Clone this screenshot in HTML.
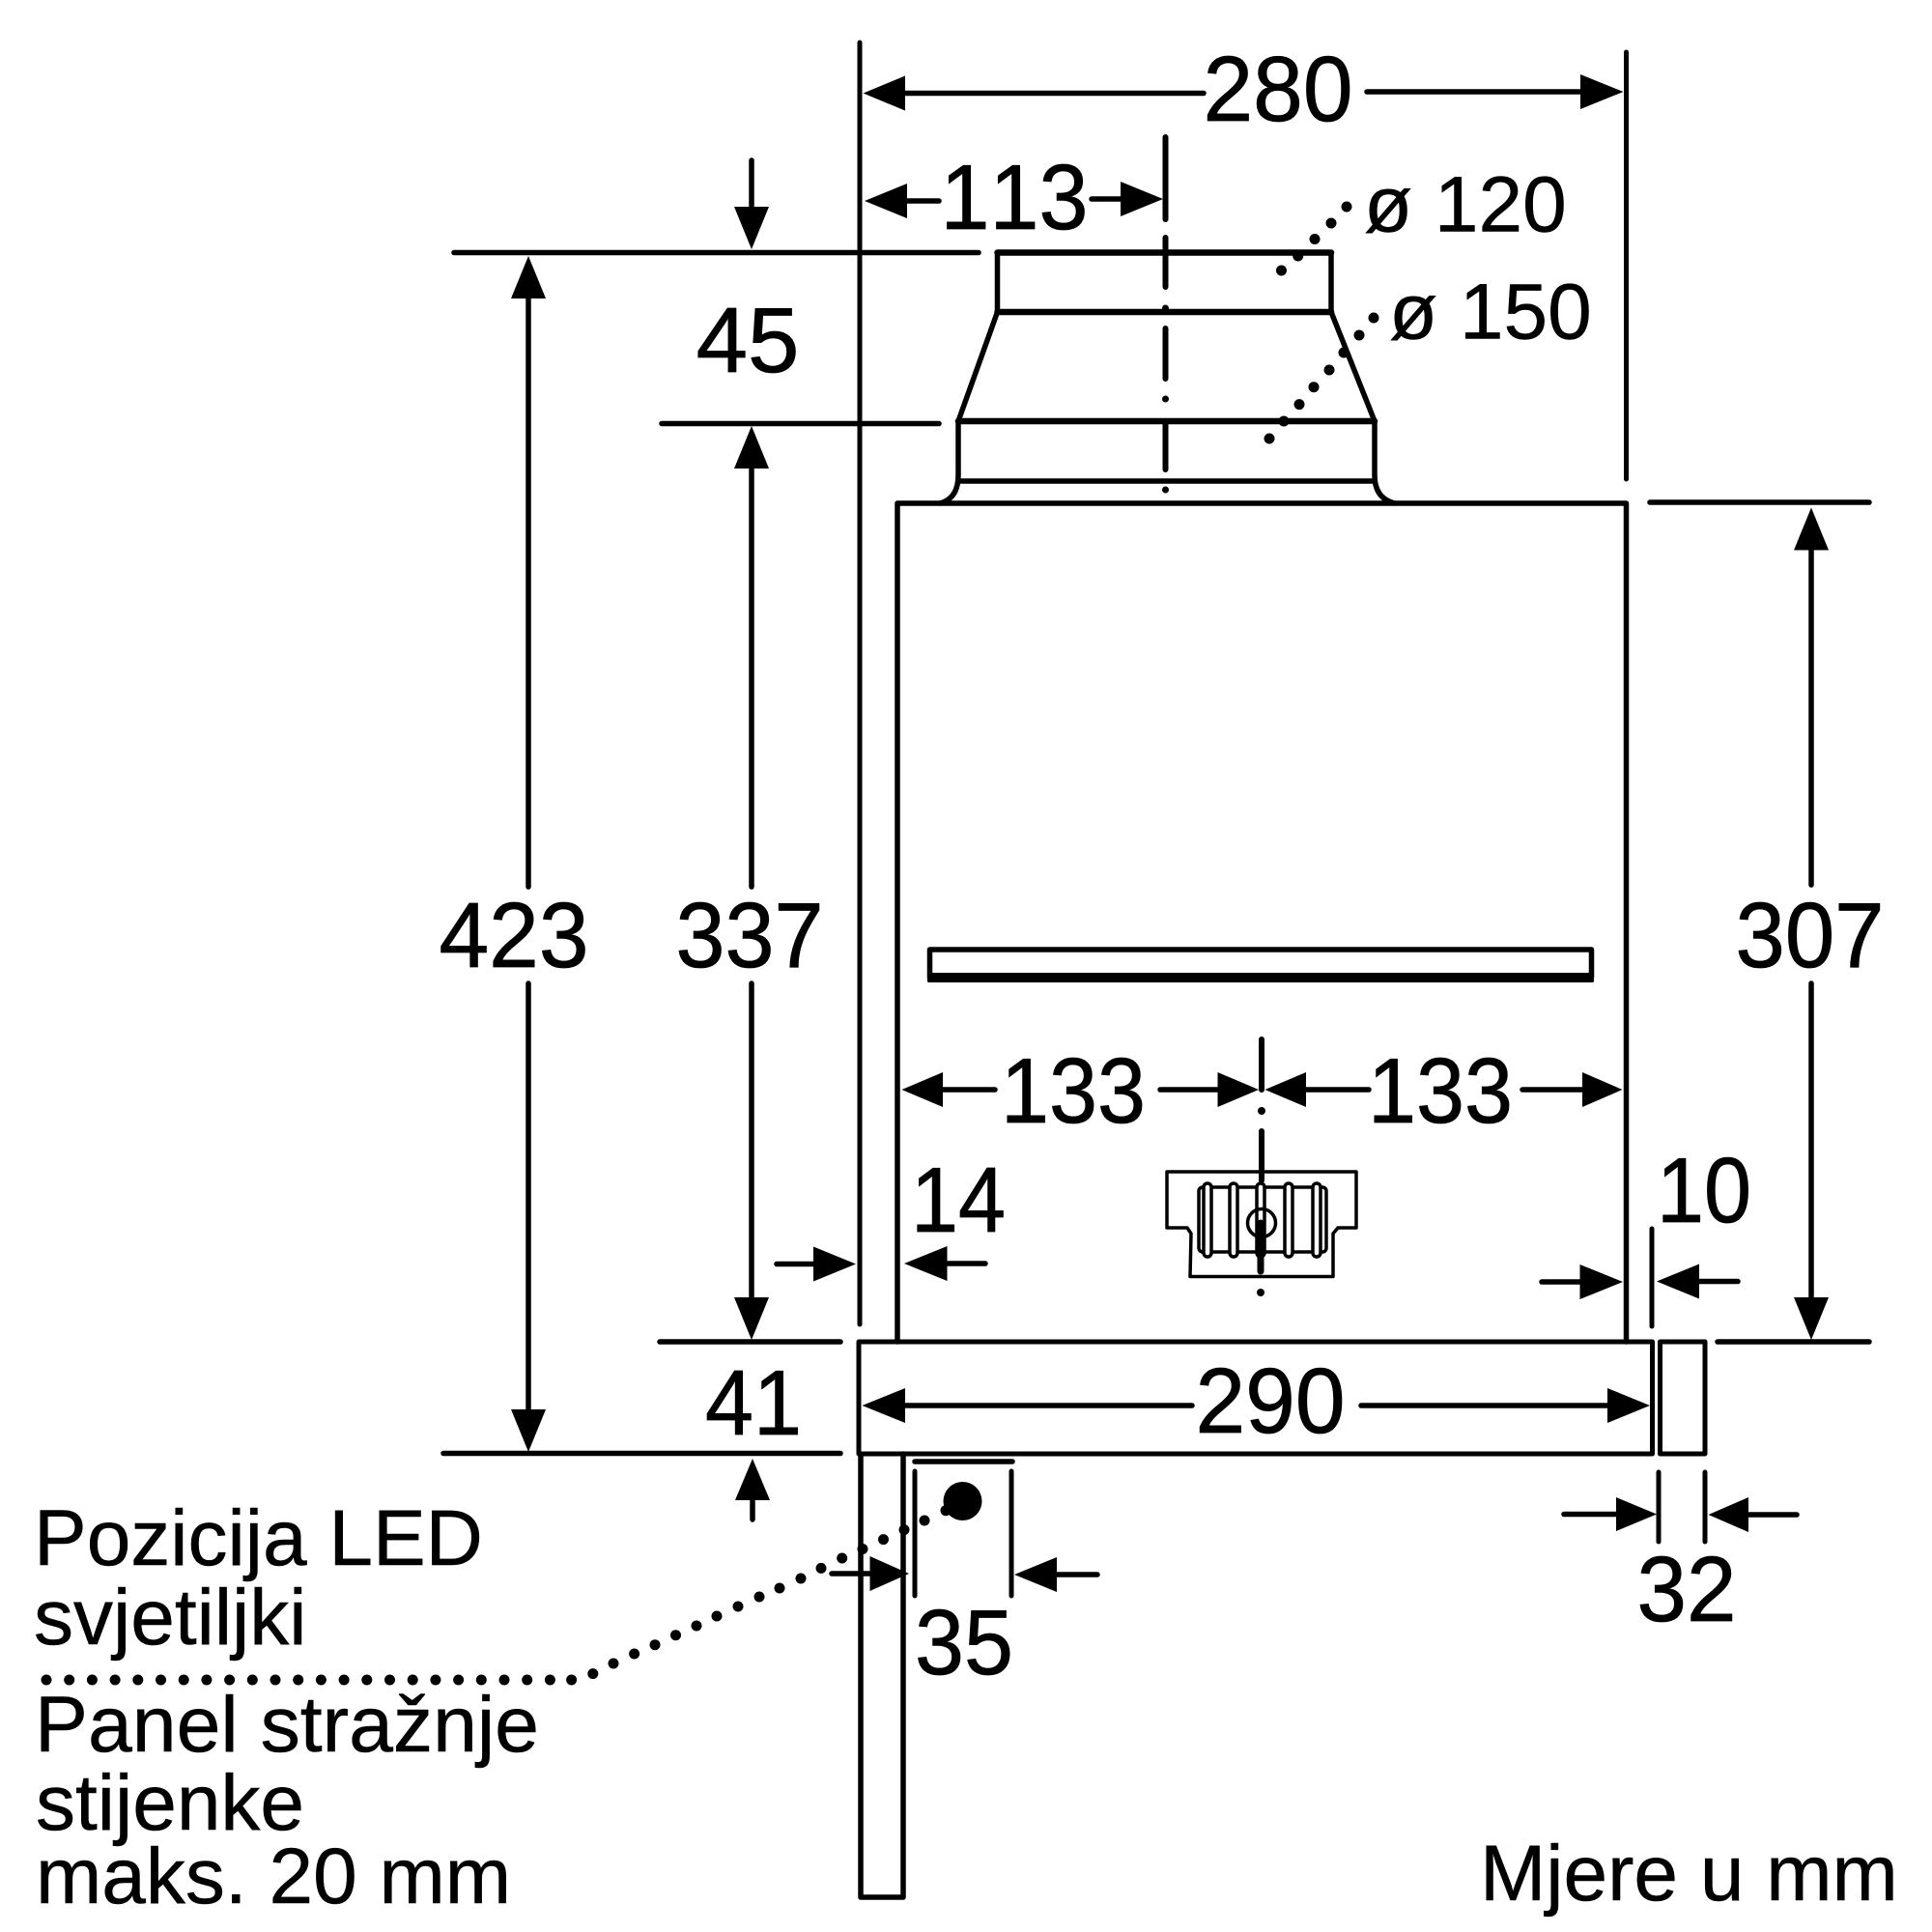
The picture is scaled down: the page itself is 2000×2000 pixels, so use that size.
<!DOCTYPE html>
<html><head><meta charset="utf-8"><style>
html,body{margin:0;padding:0;background:#fff}
svg{display:block}
text{font-family:"Liberation Sans",sans-serif;fill:#000;stroke:#000}
.n{font-size:96px;text-anchor:middle;font-kerning:none;stroke-width:.8;}
.t{font-size:82px;stroke-width:.5}
.l{fill:none;stroke:#000;stroke-width:5.5;stroke-linecap:round;stroke-linejoin:round}
.d{fill:none;stroke:#000;stroke-width:5;stroke-linecap:round}
.c{fill:none;stroke:#000;stroke-width:6;stroke-linecap:round}
</style></head><body>
<svg width="2000" height="2000" viewBox="0 0 2000 2000" xmlns="http://www.w3.org/2000/svg">
<rect width="2000" height="2000" fill="#fff"/>
<!-- wall -->
<path class="d" d="M890 44V1371"/>
<path class="l" d="M891 1505V1964H935V1505"/>
<!-- body -->
<path class="l" d="M929 1389V521H1683.5V1389"/>
<path class="l" d="M973 521Q992 516 992 492V436H1423V492Q1423 516 1444 521M992 498H1423M992 436L1032.5 323V261.5H1378V323L1423 436"/>
<path class="l" style="stroke-width:6.5" d="M992 436H1423M1032.5 261.5H1378M1032.5 323H1378"/>
<!-- shelf -->
<path class="l" d="M962.5 983H1647.5V1012H962.5Z"/>
<rect x="960" y="1007" width="690" height="10" rx="1.5"/>
<!-- bar -->
<path class="l" style="stroke-width:5" d="M889 1389H1710.5V1505H889ZM1718.5 1389H1765V1505H1718.5Z"/>
<!-- centre lines -->
<path class="c" d="M1206.5 142V227M1206.5 246V297M1206.5 340V392M1206.5 437V486"/>
<circle cx="1206.5" cy="319" r="3.5"/><circle cx="1206.5" cy="413" r="3.5"/><circle cx="1206.5" cy="507" r="3.5"/>
<path class="c" d="M1306 1076V1128M1306 1171V1222"/>
<circle cx="1306" cy="1150" r="4"/><circle cx="1305" cy="1338" r="4"/>
<!-- bracket -->
<path stroke="#000" stroke-width="3.5" fill="none" stroke-linejoin="round" d="M1208 1213H1404V1271H1385L1380 1277V1321.5H1232L1233 1277L1229 1271H1208Z"/>
<rect x="1241" y="1229" width="132" height="67" rx="4" fill="none" stroke="#000" stroke-width="3.5"/>
<g fill="#fff" stroke="#000" stroke-width="3.5">
<rect x="1246" y="1225" width="8" height="76" rx="4"/>
<rect x="1273" y="1225" width="8" height="76" rx="4"/>
<rect x="1301" y="1225" width="8" height="76" rx="4"/>
<rect x="1330" y="1225" width="8" height="76" rx="4"/>
<rect x="1359" y="1225" width="8" height="76" rx="4"/>
</g>
<circle cx="1306" cy="1266" r="14.5" fill="none" stroke="#000" stroke-width="3.5"/>
<path stroke="#000" stroke-width="7" stroke-linecap="round" d="M1305 1266V1316"/>
<!-- extension lines -->
<path class="d" d="M1683.5 54V496"/>
<path class="l" d="M470 261.5H1013M685 438.5H972M1708 520H1935M1778 1389H1935M683 1389H870M459 1504.5H870M947 1513H1048"/>
<path class="d" d="M947 1523V1652M1047 1523V1652M1710 1272V1373M1717 1524V1596M1765 1524V1596"/>
<!-- dimension lines -->
<path class="l" d="M930 96.5H1246M1415 95H1640M935 208H972M1130 206H1165M970 1128H1030M1201 1128H1262M1350 1128H1417M1576 1128H1640M975 1308H1020M804 1308.5H845M1596 1327H1640M1755 1326.5H1799M935 1455H1234M1409 1455H1668M861 1629H905M1090 1630H1136M1619 1567.5H1677M1806 1568H1860"/>
<path class="l" d="M547 305V918M547 1018V1462M778 480V918M778 1018V1348M1875 565V916M1875 1018V1348M778 166V218M779 1550V1573"/>
<!-- arrowheads -->
<g fill="#000">
<polygon points="893.5,96.5 937,78.5 937,114.5"/>
<polygon points="1680.5,95 1636,77 1636,113"/>
<polygon points="895,208 939,190 939,226"/>
<polygon points="1204,206 1160,188 1160,224"/>
<polygon points="933.5,1128 976,1110 976,1146"/>
<polygon points="1303,1128 1260.5,1110 1260.5,1146"/>
<polygon points="1309.5,1128 1352,1110 1352,1146"/>
<polygon points="1679.5,1128 1638,1110 1638,1146"/>
<polygon points="936,1308 980.5,1290 980.5,1326"/>
<polygon points="886,1308.5 842,1290.5 842,1326.5"/>
<polygon points="1680,1327 1635.5,1309 1635.5,1345"/>
<polygon points="1715,1326.5 1759,1308.5 1759,1344.5"/>
<polygon points="892.5,1455 937,1437 937,1473"/>
<polygon points="1708,1455 1664,1437 1664,1473"/>
<polygon points="941,1629 900.5,1611 900.5,1647"/>
<polygon points="1050,1630 1094,1612 1094,1648"/>
<polygon points="1715,1567.5 1673,1550 1673,1585"/>
<polygon points="1768.5,1568 1810,1550 1810,1586"/>
<polygon points="547,265 529,309 565,309"/>
<polygon points="547,1503 529,1459 565,1459"/>
<polygon points="778,441 760,485 796,485"/>
<polygon points="778,1387 760,1343 796,1343"/>
<polygon points="1875,525.5 1857,569.5 1893,569.5"/>
<polygon points="1875,1387 1857,1343 1893,1343"/>
<polygon points="778,258 760,214 796,214"/>
<polygon points="779,1510 761,1553 797,1553"/>
<!-- leader dots -->
<circle cx="1326.5" cy="280" r="5.5"/><circle cx="1343.7" cy="265" r="5.5"/><circle cx="1361" cy="247.5" r="5.5"/><circle cx="1378" cy="231" r="5.5"/><circle cx="1394" cy="214" r="5.5"/>
<circle cx="1314" cy="454" r="5.5"/><circle cx="1329" cy="436" r="5.5"/><circle cx="1345" cy="418.6" r="5.5"/><circle cx="1360" cy="400.7" r="5.5"/><circle cx="1376" cy="383" r="5.5"/><circle cx="1391" cy="365" r="5.5"/><circle cx="1407" cy="347" r="5.5"/><circle cx="1422" cy="329" r="5.5"/>
<circle cx="996.5" cy="1554" r="20"/>
<g id="dots">
<circle cx="48" cy="1739" r="5.5"/><circle cx="71.7" cy="1739" r="5.5"/><circle cx="95.4" cy="1739" r="5.5"/><circle cx="119.1" cy="1739" r="5.5"/><circle cx="142.8" cy="1739" r="5.5"/><circle cx="166.5" cy="1739" r="5.5"/><circle cx="190.2" cy="1739" r="5.5"/><circle cx="213.9" cy="1739" r="5.5"/><circle cx="237.6" cy="1739" r="5.5"/><circle cx="261.3" cy="1739" r="5.5"/><circle cx="285" cy="1739" r="5.5"/><circle cx="308.7" cy="1739" r="5.5"/><circle cx="332.4" cy="1739" r="5.5"/><circle cx="356.1" cy="1739" r="5.5"/><circle cx="379.8" cy="1739" r="5.5"/><circle cx="403.5" cy="1739" r="5.5"/><circle cx="427.2" cy="1739" r="5.5"/><circle cx="450.9" cy="1739" r="5.5"/><circle cx="474.6" cy="1739" r="5.5"/><circle cx="498.3" cy="1739" r="5.5"/><circle cx="522" cy="1739" r="5.5"/><circle cx="545.7" cy="1739" r="5.5"/><circle cx="569.4" cy="1739" r="5.5"/><circle cx="591.6" cy="1739" r="5.5"/>
<circle cx="613.8" cy="1732.6" r="5.5"/><circle cx="635" cy="1722" r="5.5"/><circle cx="656.6" cy="1712" r="5.5"/><circle cx="678" cy="1702.7" r="5.5"/><circle cx="699.5" cy="1692.7" r="5.5"/><circle cx="721" cy="1683" r="5.5"/><circle cx="742" cy="1673" r="5.5"/><circle cx="764" cy="1663" r="5.5"/><circle cx="786" cy="1653" r="5.5"/><circle cx="807" cy="1644" r="5.5"/><circle cx="829" cy="1634" r="5.5"/><circle cx="850" cy="1623.4" r="5.5"/><circle cx="871.7" cy="1613" r="5.5"/><circle cx="893" cy="1603.5" r="5.5"/><circle cx="914.5" cy="1593.6" r="5.5"/><circle cx="936" cy="1583.6" r="5.5"/><circle cx="957" cy="1574" r="5.5"/><circle cx="979" cy="1563.7" r="5.5"/>
</g>
</g>
<!-- labels -->
<text class="n" x="1323" y="125" textLength="155" lengthAdjust="spacingAndGlyphs">280</text>
<text class="n" x="1050" y="237" textLength="153" lengthAdjust="spacingAndGlyphs">113</text>
<text class="n" x="774" y="385">45</text>
<text class="n" x="532" y="1001" textLength="155" lengthAdjust="spacingAndGlyphs">423</text>
<text class="n" x="776" y="1001" textLength="153" lengthAdjust="spacingAndGlyphs">337</text>
<text class="n" x="1873.5" y="1001" textLength="154" lengthAdjust="spacingAndGlyphs">307</text>
<text class="n" x="1111" y="1162" textLength="150" lengthAdjust="spacingAndGlyphs">133</text>
<text class="n" x="1491" y="1162" textLength="150" lengthAdjust="spacingAndGlyphs">133</text>
<text class="n" x="992" y="1275" textLength="98" lengthAdjust="spacingAndGlyphs">14</text>
<text class="n" x="1764" y="1265" textLength="98" lengthAdjust="spacingAndGlyphs">10</text>
<text class="n" x="1315" y="1483" textLength="155" lengthAdjust="spacingAndGlyphs">290</text>
<text class="n" x="780" y="1485" textLength="100" lengthAdjust="spacingAndGlyphs">41</text>
<text class="n" x="998" y="1733" textLength="102" lengthAdjust="spacingAndGlyphs">35</text>
<text class="n" x="1746" y="1678" textLength="103" lengthAdjust="spacingAndGlyphs">32</text>
<text class="t" x="1412" y="239.5">ø 120</text>
<text class="t" x="1438" y="350.5">ø 150</text>
<text class="t" x="35" y="1620">Pozicija LED</text>
<text class="t" x="35" y="1702">svjetiljki</text>
<text class="t" x="36" y="1813" textLength="522" lengthAdjust="spacingAndGlyphs">Panel stražnje</text>
<text class="t" x="37" y="1894">stijenke</text>
<text class="t" x="37" y="1970">maks. 20 mm</text>
<text class="t" x="1532" y="1967">Mjere u mm</text>
</svg>
</body></html>
